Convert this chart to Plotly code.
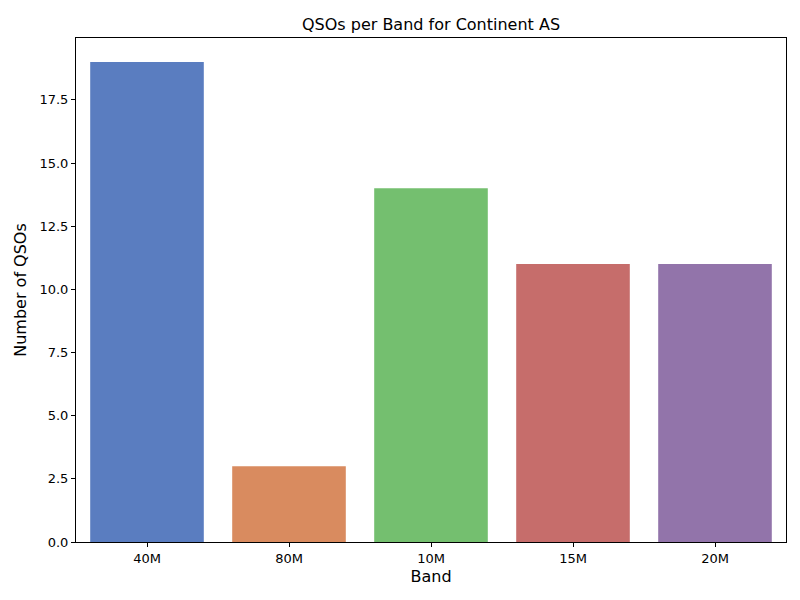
import plotly.graph_objects as go

bands = ["40M", "80M", "10M", "15M", "20M"]
counts = [19, 3, 14, 11, 11]
colors = ["#5a7dc0", "#d98b5f", "#74bf6f", "#c66d6b", "#9274aa"]
yticks = [0, 2.5, 5, 7.5, 10, 12.5, 15, 17.5]

fig = go.Figure(go.Bar(x=bands, y=counts, marker_color=colors, width=0.8, marker_line_width=0))
fig.update_layout(
    width=800, height=600, plot_bgcolor="white", paper_bgcolor="white",
    margin=dict(l=68, r=22, t=30, b=66),
    font=dict(family="DejaVu Sans", size=13, color="black"),
    title=dict(text="QSOs per Band for Continent AS", x=0.5, xanchor="center",
               xref="paper", y=1-16/600, yanchor="middle", font=dict(size=16)),
    showlegend=False,
)
axis = dict(showline=True, linecolor="black", linewidth=1, mirror=True, showgrid=False,
            ticks="outside", ticklen=4, tickcolor="black")
fig.update_xaxes(title_text="Band", title_standoff=6, range=[-0.5, 4.5], **axis)
fig.update_yaxes(title_text="Number of QSOs", title_standoff=8, range=[0, 19.95], tickvals=yticks,
                 ticktext=[f"{v:.1f}" for v in yticks], **axis)
fig.write_html("out.html")
